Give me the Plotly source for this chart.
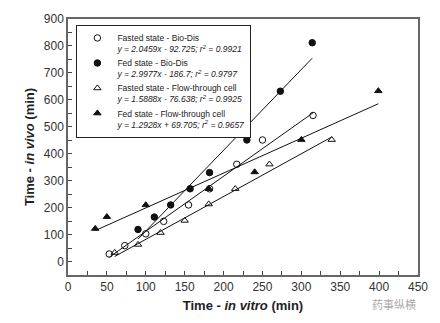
import plotly.graph_objects as go

# ---- data ----
fasted_bio_x = [53, 73, 100, 123, 155, 182, 217, 250, 315]
fasted_bio_y = [28, 59, 103, 149, 210, 270, 361, 451, 542]
fed_bio_x = [90, 111, 132, 157, 182, 230, 273, 314]
fed_bio_y = [119, 165, 210, 270, 330, 451, 632, 812]
fasted_ftc_x = [60, 90, 119, 150, 181, 215, 259, 339]
fasted_ftc_y = [33, 63, 107, 152, 213, 270, 361, 452]
fed_ftc_x = [35, 50, 100, 181, 240, 300, 399]
fed_ftc_y = [122, 166, 210, 270, 332, 452, 633]

names = ["Fasted state - Bio-Dis", "Fed state - Bio-Dis",
         "Fasted state - Flow-through cell", "Fed state - Flow-through cell"]
slopes = [2.0459, 2.9977, 1.5888, 1.2928]
intercepts = [-92.725, -186.7, -76.638, 69.705]
eq_text = ["y = 2.0459x - 92.725; r<sup>2</sup> = 0.9921",
           "y = 2.9977x - 186.7; r<sup>2</sup> = 0.9797",
           "y = 1.5888x - 76.638; r<sup>2</sup> = 0.9925",
           "y = 1.2928x + 69.705; r<sup>2</sup> = 0.9657"]
symbols = ["circle-open", "circle", "triangle-up-open", "triangle-up"]

xs = [fasted_bio_x, fed_bio_x, fasted_ftc_x, fed_ftc_x]
ys = [fasted_bio_y, fed_bio_y, fasted_ftc_y, fed_ftc_y]

fig = go.Figure()
for i in range(4):
    x0, x1 = min(xs[i]), max(xs[i])
    fig.add_trace(go.Scatter(
        x=[x0, x1], y=[slopes[i] * x0 + intercepts[i], slopes[i] * x1 + intercepts[i]],
        mode="lines", line=dict(color="#111", width=1), showlegend=False, hoverinfo="skip"))
for i in range(4):
    fig.add_trace(go.Scatter(
        x=xs[i], y=ys[i], mode="markers",
        marker=dict(symbol=symbols[i], size=6.5, color="#111",
                    line=dict(color="#111", width=1)),
        name=names[i] + "<br><span style=\"font-family:'Liberation Sans Narrow','Arial Narrow',sans-serif\"><i>"
             + eq_text[i] + "</i></span>"))

axis_common = dict(
    showline=True, linecolor="#666", linewidth=1.5, mirror=True,
    ticks="inside", ticklen=4, tickcolor="#444", tickwidth=1,
    showgrid=False, zeroline=False,
    tickfont=dict(family="Arial, Liberation Sans", size=12, color="#333"),
)

fig.update_xaxes(range=[0, 450], tickvals=list(range(0, 451, 50)),
                 minor=dict(dtick=25, ticks="inside", ticklen=4, tickcolor="#444"),
                 title=dict(text="<b>Time - <i>in vitro</i> (min)</b>",
                            font=dict(family="Arial, Liberation Sans", size=13, color="#222"),
                            standoff=8),
                 **axis_common)
fig.update_yaxes(range=[-50, 900], tickvals=list(range(0, 901, 100)),
                 minor=dict(dtick=50, ticks="inside", ticklen=4, tickcolor="#444"),
                 title=dict(text="<b>Time - <i>in vivo</i> (min)</b>",
                            font=dict(family="Arial, Liberation Sans", size=13, color="#222"),
                            standoff=6),
                 **axis_common)

fig.update_layout(
    width=440, height=323,
    margin=dict(l=68, r=21, t=17, b=48),
    paper_bgcolor="white", plot_bgcolor="white",
    legend=dict(x=0.024, y=0.977, xanchor="left", yanchor="top",
                bordercolor="#222", borderwidth=1, bgcolor="white",
                font=dict(family="Arial, Liberation Sans", size=8.5, color="#222"),
                valign="top", tracegroupgap=0, itemwidth=30),
    annotations=[dict(text="药事纵横", x=1.0, y=-0.115, xref="paper", yref="paper",
                      xanchor="right", yanchor="middle", showarrow=False,
                      font=dict(family="Noto Sans CJK SC", size=11, color="#aaa"))],
)

fig.write_html("out.html")
